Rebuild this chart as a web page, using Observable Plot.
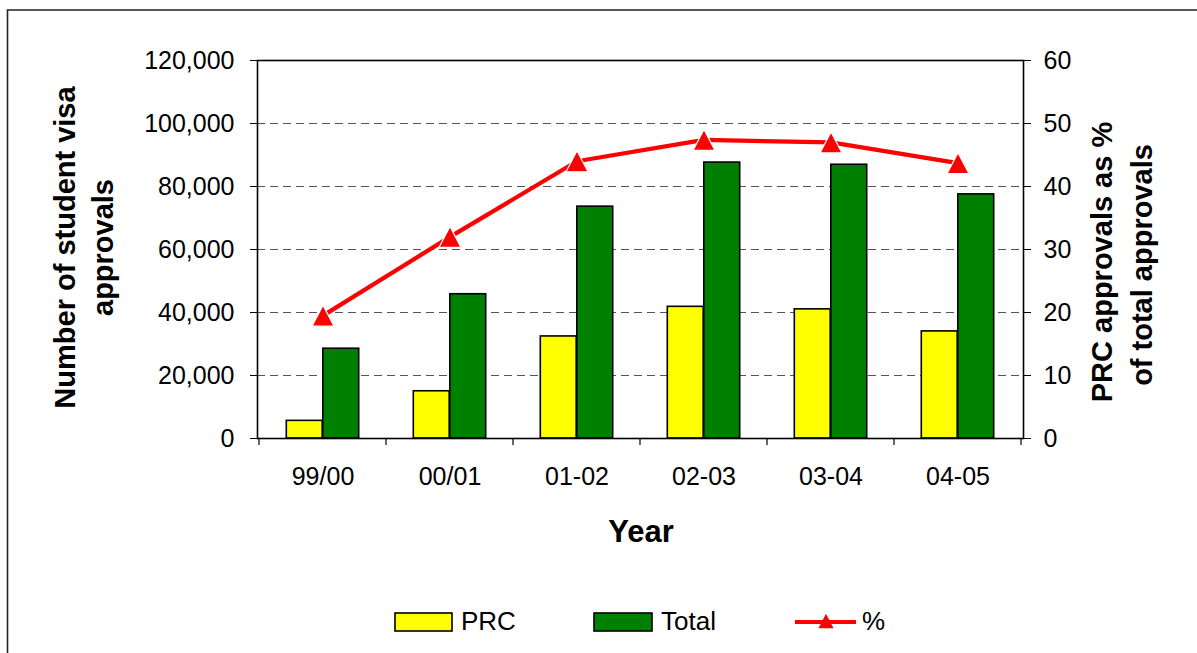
<!DOCTYPE html>
<html><head><meta charset="utf-8">
<script src="https://cdn.jsdelivr.net/npm/d3@7"></script>
<script src="https://cdn.jsdelivr.net/npm/@observablehq/plot@0.6"></script>
<style>
body{margin:0;background:#fff;}
#chart{position:relative;width:1197px;height:653px;overflow:hidden;font-family:"Liberation Sans",Arial,sans-serif;}
</style>
</head><body><div id="chart"></div>
<script>
const years = ["99/00","00/01","01-02","02-03","03-04","04-05"];
const prc = [5600,15000,32400,41800,41000,34000];
const total = [28500,45800,73600,87600,86900,77500];
const pct = [19.5,32.0,44.0,47.4,47.0,43.7];
const leftTicks = [0,20000,40000,60000,80000,100000,120000];
const rightTicks = [0,10,20,30,40,50,60];
const k = 120000 / 60; // right axis 0–60 maps onto left 0–120,000

const rows = years.map((year,i)=>({year, prc:prc[i], total:total[i], pct:pct[i]}));

// Excel-style triangle marker (about 20px wide and tall, centred on its box)
const tri = {draw(ctx){ ctx.moveTo(0,-10.5); ctx.lineTo(11,10.5); ctx.lineTo(-11,10.5); ctx.closePath(); }};

const plot = Plot.plot({
  width:1197, height:653,
  marginLeft:257, marginRight:174, marginTop:60, marginBottom:215,
  style:{fontFamily:"'Liberation Sans',Arial,sans-serif", background:"#fff", color:"#000"},
  x:{type:"band", domain:years, padding:0},
  y:{domain:[0,120000]},
  marks:[
    Plot.gridY(leftTicks.slice(1,-1), {stroke:"#555", strokeOpacity:1, strokeWidth:1.2, strokeDasharray:"8,5"}),
    Plot.barY(rows, {x:"year", y:"prc", fill:"#ffff00", stroke:"#000", strokeWidth:1.6, insetLeft:27.3, insetRight:63.8}),
    Plot.barY(rows, {x:"year", y:"total", fill:"#008000", stroke:"#000", strokeWidth:1.6, insetLeft:63.8, insetRight:27.3}),
    Plot.line(rows, {x:"year", y:d=>d.pct*k, stroke:"#ff0000", strokeWidth:4.2}),
    Plot.dot(rows, {x:"year", y:d=>d.pct*k, symbol:tri, fill:"#ff0000", stroke:"#fff", strokeWidth:1.2}),
    Plot.frame({stroke:"#000", strokeWidth:1.6}),
    Plot.axisY(leftTicks, {anchor:"left", tickFormat:d3.format(","), tickSize:7, tickPadding:16, fontSize:25, label:null}),
    Plot.axisY(leftTicks, {anchor:"right", tickFormat:d=>d/k, tickSize:7, tickPadding:13, fontSize:25, label:null}),
    Plot.axisX({tickSize:0, tickPadding:29, fontSize:25, label:null})
  ]
});
document.getElementById("chart").appendChild(plot);

const svg = d3.select(plot);
const xs = plot.scale("x"), ys = plot.scale("y");
const y0 = ys.apply(0);
// x tick marks at category boundaries
const bounds = years.map(y=>xs.apply(y)).concat([xs.apply(years[years.length-1]) + xs.bandwidth]);
svg.append("g").selectAll("line").data(bounds).join("line")
  .attr("x1",d=>d).attr("x2",d=>d).attr("y1",y0).attr("y2",y0+7)
  .attr("stroke","#000").attr("stroke-width",1.2);

// outer frame (left & top)
svg.append("path").attr("d","M7.5,653V10H1197").attr("fill","none").attr("stroke","#222").attr("stroke-width",1.6);

// axis titles
const font = "'Liberation Sans',Arial,sans-serif";
function vtext(x,y,txt){
  svg.append("text").attr("transform",`translate(${x},${y}) rotate(-90)`)
    .attr("text-anchor","middle").attr("font-family",font).attr("font-weight","bold")
    .attr("font-size",29).attr("fill","#000").text(txt);
}
vtext(75,247.5,"Number of student visa");
vtext(113,247.5,"approvals");
vtext(1112,262,"PRC approvals as %");
vtext(1152,265,"of total approvals");
svg.append("text").attr("x",641).attr("y",542).attr("text-anchor","middle")
  .attr("font-family",font).attr("font-weight","bold").attr("font-size",31).attr("fill","#000").text("Year");

// legend
const lg = svg.append("g").attr("font-family",font).attr("font-size",26).attr("fill","#000").attr("text-anchor","start");
lg.append("rect").attr("x",395).attr("y",613).attr("width",57).attr("height",18).attr("fill","#ffff00").attr("stroke","#000").attr("stroke-width",1.6);
lg.append("text").attr("x",461).attr("y",630).text("PRC");
lg.append("rect").attr("x",594).attr("y",613).attr("width",58).attr("height",18).attr("fill","#008000").attr("stroke","#000").attr("stroke-width",1.6);
lg.append("text").attr("x",661).attr("y",630).text("Total");
lg.append("line").attr("x1",795).attr("x2",856).attr("y1",622).attr("y2",622).attr("stroke","#ff0000").attr("stroke-width",4.2);
lg.append("path").attr("transform","translate(826,621) scale(0.72)")
  .attr("d","M0,-10L10.5,10L-10.5,10Z").attr("fill","#ff0000");
lg.append("text").attr("x",862).attr("y",630).text("%");
</script>
</body></html>
